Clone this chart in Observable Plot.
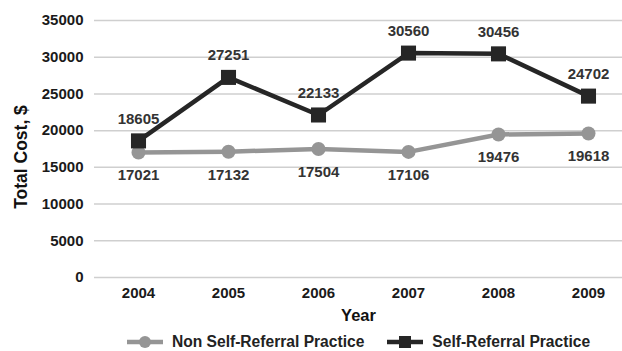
<!DOCTYPE html>
<html>
<head>
<meta charset="utf-8">
<script src="https://cdn.jsdelivr.net/npm/d3@7"></script>
<script src="https://cdn.jsdelivr.net/npm/@observablehq/plot@0.6"></script>
<style>
  html, body { margin: 0; padding: 0; background: #fff; }
  body { width: 622px; height: 351px; overflow: hidden; font-family: "Liberation Sans", Arial, sans-serif; }
  #chart svg { display: block; }
  #legend { display: flex; justify-content: center; align-items: center; gap: 23px; font-weight: bold; font-size: 15.6px; color: #222; margin-top: 6px; margin-left: 95px; line-height: 16px; }
  .item { display: flex; align-items: center; gap: 9px; }
</style>
</head>
<body>
<div id="chart"></div>
<div id="legend"></div>
<script>
const years = ["2004", "2005", "2006", "2007", "2008", "2009"];
const nonSelfReferral = [17021, 17132, 17504, 17106, 19476, 19618];
const selfReferral = [18605, 27251, 22133, 30560, 30456, 24702];
const yTicks = [0, 5000, 10000, 15000, 20000, 25000, 30000, 35000];
const seriesNames = ["Non Self-Referral Practice", "Self-Referral Practice"];
const seriesColors = ["#959595", "#262626"];

const nonData = years.map((y, i) => ({year: y, value: nonSelfReferral[i]}));
const selfData = years.map((y, i) => ({year: y, value: selfReferral[i]}));

const chart = Plot.plot({
  width: 622,
  height: 328,
  marginLeft: 94,
  marginRight: 0,
  marginTop: 20,
  marginBottom: 51,
  style: {fontFamily: "Liberation Sans, Arial, sans-serif", fontWeight: "bold", color: "#1a1a1a"},
  x: {type: "point", domain: years, range: [138, 588], padding: 0, label: null},
  y: {domain: [0, 35000], ticks: yTicks, label: null},
  marks: [
    Plot.ruleY(yTicks, {stroke: "#cfcfcf", strokeWidth: 1.5}),
    Plot.axisY({ticks: yTicks, tickSize: 0, tickPadding: 11, tickFormat: d => String(d), fontSize: 15, fontWeight: "bold", label: null}),
    Plot.axisX({tickSize: 0, tickPadding: 10, fontSize: 15, fontWeight: "bold", label: null}),
    Plot.text(["Total Cost, $"], {frameAnchor: "left", textAnchor: "middle", dx: -73, dy: 8, rotate: -90, fontSize: 17.5, fontWeight: "bold", fill: "#111"}),
    Plot.text(["Year"], {frameAnchor: "bottom", dy: 43, dx: 0, fontSize: 16.5, fontWeight: "bold", fill: "#111"}),
    Plot.line(nonData, {x: "year", y: "value", stroke: seriesColors[0], strokeWidth: 4.5}),
    Plot.dot(nonData, {x: "year", y: "value", r: 7, fill: seriesColors[0], stroke: null}),
    Plot.line(selfData, {x: "year", y: "value", stroke: seriesColors[1], strokeWidth: 4.5}),
    Plot.dot(selfData, {x: "year", y: "value", symbol: "square", r: 8.5, fill: seriesColors[1], stroke: null}),
    Plot.text(selfData, {x: "year", y: "value", text: d => String(d.value), dy: -22, fontSize: 15, fontWeight: "bold", fill: "#333"}),
    Plot.text(nonData, {x: "year", y: "value", text: d => String(d.value), dy: 23, fontSize: 15, fontWeight: "bold", fill: "#333"})
  ]
});
document.getElementById("chart").appendChild(chart);

const legend = document.getElementById("legend");
seriesNames.forEach((name, i) => {
  const item = document.createElement("div");
  item.className = "item";
  const marker = i === 0
    ? `<circle cx="18" cy="7" r="6" fill="${seriesColors[i]}"/>`
    : `<rect x="12" y="1" width="12" height="12" fill="${seriesColors[i]}"/>`;
  item.innerHTML = `<svg width="36" height="14" style="display:block"><line x1="0" x2="36" y1="7" y2="7" stroke="${seriesColors[i]}" stroke-width="4.5"/>${marker}</svg><span>${name}</span>`;
  legend.appendChild(item);
});
</script>
</body>
</html>
